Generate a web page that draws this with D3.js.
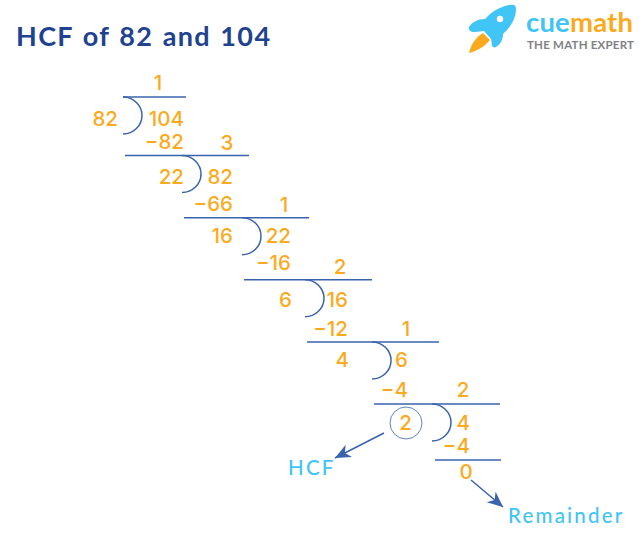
<!DOCTYPE html>
<html>
<head>
<meta charset="utf-8">
<script src="https://cdn.jsdelivr.net/npm/d3@7"></script>
<style>
html, body { margin: 0; padding: 0; background: #fff; }
svg { display: block; }
text { font-family: "Lato", sans-serif; }
text.num { font-family: "Inter", sans-serif; }
</style>
</head>
<body>
<svg id="chart" width="643" height="558"></svg>
<script>
// the division ladder, one entry per step
const divisors = [82, 22, 16, 6, 4, 2];
const dividends = [104, 82, 22, 16, 6, 4];
const quotients = [1, 3, 1, 2, 1, 2];
const subtracted = [-82, -66, -16, -12, -4, -4];
const remainders = [22, 16, 6, 4, 2, 0];

const titleText = 'HCF of 82 and 104';
const hcfLabel = 'HCF';
const remainderLabel = 'Remainder';

const ORANGE = '#fcaa1d';
const BLUE = '#3a63ad';
const SKY = '#41c4f6';
const NAVY = '#1f4390';

const steps = d3.range(divisors.length);
const svg = d3.select('#chart');

// layout scales, the ladder is not perfectly regular so these are piecewise
const ruleY = d3.scaleLinear().domain([0, 1, 5]).range([97, 155.5, 404]);
const bracketX = d3.scaleLinear().domain(steps).range([123, 182, 242, 305, 372, 432]);
const ruleEnd = d3.scaleLinear().domain(steps).range([186, 249, 309, 372, 439, 500]);
const divisorRight = d3.scaleLinear().domain(steps).range([118, 184, 233, 292, 349, 412]);
const dividendRight = d3.scaleLinear().domain(steps).range([184, 233, 291, 348, 408, 470]);
const quotientX = d3.scaleLinear().domain(steps).range([158, 227, 284, 340, 406, 463]);
const rowBase = d3.scaleLinear().domain(steps).range([126, 184, 243, 307, 367, 430]);
const subtractBase = d3.scaleLinear().domain(steps).range([149, 211, 270, 336, 397, 453]);
const quotientBase = d3.scaleLinear().domain(steps).range([90, 150, 212, 274, 336, 397]);

function number(x, y, value, anchor) {
  svg.append('text')
    .attr('class', 'num')
    .attr('x', x).attr('y', y)
    .attr('text-anchor', anchor)
    .attr('fill', ORANGE)
    .attr('font-size', 20.5)
    .attr('font-weight', 500)
    .text(value < 0 ? '\u2212' + (-value) : value);
}

// rules: each one runs from under the previous subtraction to the end of the quotient bar
svg.selectAll('line.rule').data(steps).join('line')
  .attr('class', 'rule')
  .attr('x1', d => d === 0 ? bracketX(0) : bracketX(d - 1) + 2)
  .attr('x2', d => ruleEnd(d))
  .attr('y1', d => ruleY(d))
  .attr('y2', d => ruleY(d))
  .attr('stroke', BLUE).attr('stroke-width', 1.5);

// last rule under the final subtraction
svg.append('line')
  .attr('x1', bracketX(5) + 3).attr('x2', ruleEnd(5) + 1)
  .attr('y1', ruleY(5) + 56).attr('y2', ruleY(5) + 56)
  .attr('stroke', BLUE).attr('stroke-width', 1.5);

// division brackets
svg.selectAll('path.bracket').data(steps).join('path')
  .attr('class', 'bracket')
  .attr('d', d => {
    const p = d3.path();
    const x = bracketX(d), y = ruleY(d);
    p.moveTo(x, y);
    p.bezierCurveTo(x + 10.5, y, x + 19, y + 8.3, x + 19, y + 18.5);
    p.bezierCurveTo(x + 19, y + 28.7, x + 10.5, y + 37, x, y + 37);
    return p.toString();
  })
  .attr('fill', 'none').attr('stroke', BLUE).attr('stroke-width', 1.5);

steps.forEach(i => {
  number(quotientX(i), quotientBase(i), quotients[i], 'middle');
  number(divisorRight(i), rowBase(i), divisors[i], 'end');
  number(dividendRight(i), rowBase(i), dividends[i], 'end');
  number(dividendRight(i), subtractBase(i), subtracted[i], 'end');
});

// final remainder under the last rule
number(466, 479, remainders[5], 'middle');

// circle around the HCF
svg.append('circle')
  .attr('cx', 406).attr('cy', 423).attr('r', 16)
  .attr('fill', 'none').attr('stroke', BLUE).attr('stroke-width', 0.8);

function arrow(x1, y1, x2, y2) {
  svg.append('line')
    .attr('x1', x1).attr('y1', y1).attr('x2', x2).attr('y2', y2)
    .attr('stroke', BLUE).attr('stroke-width', 1.5);
  const a = Math.atan2(y2 - y1, x2 - x1);
  const pt = (r, t) => [x2 - r * Math.cos(a + t), y2 - r * Math.sin(a + t)];
  svg.append('path')
    .attr('d', d3.line()([[x2, y2], pt(17, 0.42), pt(11, 0), pt(17, -0.42)]) + 'Z')
    .attr('fill', BLUE);
}
arrow(384, 433, 335, 458);
arrow(471, 480, 503, 507);

svg.append('text').attr('x', 288).attr('y', 475)
  .attr('fill', SKY).attr('font-size', 20.5).attr('font-weight', 500)
  .attr('letter-spacing', 2.2).text(hcfLabel);
svg.append('text').attr('x', 508).attr('y', 523)
  .attr('fill', SKY).attr('font-size', 20.5).attr('font-weight', 500)
  .attr('letter-spacing', 2.2).text(remainderLabel);

// title
svg.append('text').attr('x', 16).attr('y', 46)
  .attr('fill', NAVY).attr('font-size', 27).attr('font-weight', 700)
  .attr('letter-spacing', 1.35).attr('word-spacing', 1.5).text(titleText);

// logo
const logo = svg.append('g');
logo.append('path')
  .attr('d', 'M469 53 C471 44 476 37 483 33 L490 40 C484 47 477 51 469 53Z')
  .attr('fill', ORANGE);
logo.append('path')
  .attr('d', 'M509 5 C514 4 516 5 516 9 C516 18 511 27 503 34 C503 39 501 44 496 47 C494 48 492 47 492 45 L491 39 L484 31 L475 32 C472 32 468 31 469 27 C472 22 478 19 485 19 C492 11 500 7 509 5Z')
  .attr('fill', SKY);
logo.append('circle').attr('cx', 500).attr('cy', 19).attr('r', 3.2).attr('fill', '#fff');

const logoWord = logo.append('text').attr('x', 526).attr('y', 32)
  .attr('font-size', 27.5).attr('font-weight', 700)
  .attr('textLength', 107).attr('lengthAdjust', 'spacing');
logoWord.append('tspan').attr('fill', SKY).text('cue');
logoWord.append('tspan').attr('fill', ORANGE).text('math');
logo.append('text').attr('x', 527).attr('y', 49)
  .attr('fill', '#808285').attr('font-size', 11.5).attr('font-weight', 700)
  .attr('textLength', 107).attr('lengthAdjust', 'spacing')
  .text('THE MATH EXPERT');
</script>
</body>
</html>
